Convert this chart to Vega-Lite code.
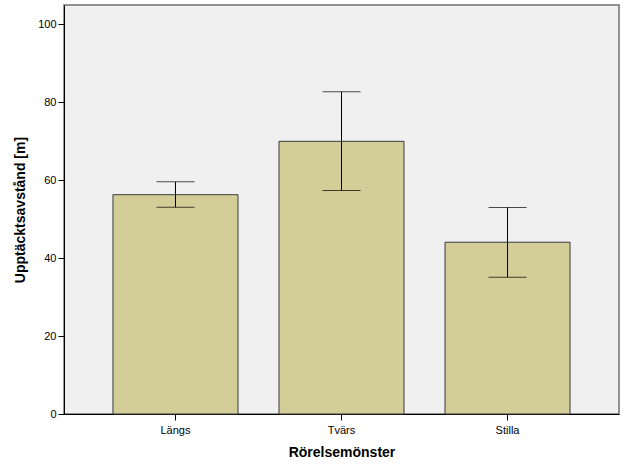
{
  "$schema": "https://vega.github.io/schema/vega-lite/v6.json",
  "width": 555,
  "height": 409,
  "autosize": "none",
  "padding": {"left": 64, "top": 5, "right": 7, "bottom": 50},
  "background": "white",
  "config": {
    "font": "Liberation Sans",
    "view": {"fill": "#f0f0f0", "stroke": "#707070", "strokeWidth": 1.5},
    "axis": {
      "labelFont": "Liberation Sans", "titleFont": "Liberation Sans",
      "labelFontSize": 11, "labelColor": "#000000",
      "titleFontSize": 14, "titleFontWeight": "bold", "titleColor": "#000000",
      "domainColor": "#000000", "tickColor": "#000000", "tickSize": 6,
      "grid": false
    }
  },
  "data": {
    "values": [
      {"Rörelsemönster": "Längs", "medel": 56.3, "lo": 53.1, "hi": 59.6},
      {"Rörelsemönster": "Tvärs", "medel": 70.0, "lo": 57.4, "hi": 82.7},
      {"Rörelsemönster": "Stilla", "medel": 44.1, "lo": 35.1, "hi": 53.0}
    ]
  },
  "encoding": {
    "x": {
      "field": "Rörelsemönster", "type": "nominal", "sort": null,
      "scale": {"paddingInner": 0.247, "paddingOuter": 0.295},
      "axis": {"labelAngle": 0, "labelPadding": 4, "titlePadding": 10, "title": "Rörelsemönster"}
    }
  },
  "layer": [
    {
      "mark": {"type": "bar", "color": "#d3ce97", "stroke": "#3a3a3a", "strokeWidth": 1},
      "encoding": {
        "y": {
          "field": "medel", "type": "quantitative",
          "scale": {"domain": [0, 105], "nice": false},
          "axis": {"values": [0, 20, 40, 60, 80, 100], "title": "Upptäcktsavstånd [m]", "titlePadding": 10, "labelPadding": 2}
        }
      }
    },
    {
      "mark": {"type": "rule", "color": "#000000", "strokeWidth": 1},
      "encoding": {
        "y": {"field": "lo", "type": "quantitative"},
        "y2": {"field": "hi"}
      }
    },
    {
      "mark": {"type": "tick", "color": "#000000", "size": 38, "thickness": 1},
      "encoding": {"y": {"field": "lo", "type": "quantitative"}}
    },
    {
      "mark": {"type": "tick", "color": "#000000", "size": 38, "thickness": 1},
      "encoding": {"y": {"field": "hi", "type": "quantitative"}}
    }
  ]
}
